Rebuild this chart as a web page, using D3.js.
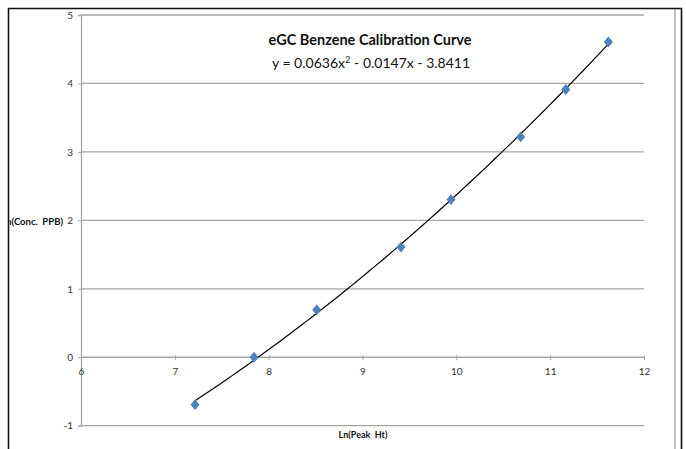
<!DOCTYPE html>
<html><head><meta charset="utf-8">
<script src="https://cdn.jsdelivr.net/npm/d3@7"></script>
<style>body{margin:0;background:#fff}svg{display:block}</style>
</head><body>
<svg id="c" width="686" height="449"></svg>
<script>
const lnPeakHt = [7.215, 7.844, 8.512, 9.41, 9.943, 10.686, 11.166, 11.62];
const lnConc   = [-0.693, 0, 0.693, 1.609, 2.303, 3.219, 3.912, 4.605];
const xTicks = [6, 7, 8, 9, 10, 11, 12];
const yTicks = [-1, 0, 1, 2, 3, 4, 5];
const trendCoef = [0.0636, -0.0147, -3.8411];
const titleText = "eGC Benzene Calibration Curve";
const xLabel = "Ln(Peak  Ht)";
const yLabel = "Ln(Conc.  PPB)";

const FONT = "Lato, 'Open Sans', sans-serif";
const svg = d3.select("#c");
const x = d3.scaleLinear().domain([6, 12]).range([81, 644]);
const y = d3.scaleLinear().domain([-1, 5]).range([425.7, 15]);
const grid = "#a5a5a5";

svg.append("defs").append("clipPath").attr("id","clip")
  .append("rect").attr("x",9.5).attr("y",9).attr("width",671).attr("height",440);
const g = svg.append("g").attr("clip-path","url(#clip)");

// gridlines
g.selectAll("line.grid").data(yTicks.filter(d=>d!==0)).join("line")
  .attr("x1",x(6)).attr("x2",x(12)).attr("y1",d=>y(d)).attr("y2",d=>y(d))
  .attr("stroke",grid).attr("stroke-width",1.3);

// y axis
const ya = g.append("g").attr("transform",`translate(${x(6)},0)`)
  .call(d3.axisLeft(y).tickValues(yTicks).tickSize(3).tickPadding(5).tickFormat(d => String(d)));
ya.select(".domain").attr("stroke",grid).attr("stroke-width",1.3);
ya.selectAll(".tick line").attr("stroke",grid);
ya.selectAll("text").attr("font-family",FONT).attr("font-size",10).attr("fill","#333");

// x axis at y=0
const xa = g.append("g").attr("transform",`translate(0,${y(0)})`)
  .call(d3.axisBottom(x).tickValues(xTicks).tickSize(3).tickPadding(8).tickFormat(d => String(d)));
xa.select(".domain").attr("stroke",grid).attr("stroke-width",1.3).attr("d",`M${x(6)},0H${x(12)}`);
xa.selectAll(".tick line").attr("stroke",grid).attr("y1",-2).attr("y2",3);
xa.selectAll("text").attr("font-family",FONT).attr("font-size",10).attr("fill","#333");

// trendline
const xs = d3.range(0, 101).map(i => d3.min(lnPeakHt) + (d3.max(lnPeakHt)-d3.min(lnPeakHt))*i/100);
const tline = d3.line().x(d=>x(d)).y(d=>y(trendCoef[0]*d*d + trendCoef[1]*d + trendCoef[2]));
g.append("path").attr("d",tline(xs)).attr("fill","none").attr("stroke","#000").attr("stroke-width",1.2);

// points
g.selectAll("path.pt").data(lnPeakHt.map((v,i)=>[v,lnConc[i]])).join("path")
  .attr("d", d3.symbol(d3.symbolDiamond, 34)())
  .attr("transform", d=>`translate(${x(d[0])},${y(d[1])}) scale(1.45,1)`)
  .attr("fill","#4f81bd");

// title and equation
g.append("text").attr("x",370).attr("y",45).attr("text-anchor","middle")
  .attr("font-family",FONT).attr("font-weight","bold").attr("font-size",14.5).attr("fill","#111")
  .text(titleText);
const eq = g.append("text").attr("x",371).attr("y",68).attr("text-anchor","middle")
  .attr("font-family",FONT).attr("font-size",14).attr("fill","#111");
eq.append("tspan").text("y = 0.0636x");
eq.append("tspan").attr("dy",-5).attr("font-size",9.5).text("2");
eq.append("tspan").attr("dy",5).text(" - 0.0147x - 3.8411");

// axis labels
g.append("text").attr("x",363).attr("y",437.5).attr("text-anchor","middle")
  .attr("font-family",FONT).attr("font-weight","bold").attr("font-size",9).attr("fill","#111")
  .attr("xml:space","preserve").text(xLabel);
g.append("text").attr("x",63).attr("y",225).attr("text-anchor","end")
  .attr("font-family",FONT).attr("font-weight","bold").attr("font-size",9.5).attr("fill","#111")
  .attr("xml:space","preserve").text(yLabel);

// borders
svg.append("line").attr("x1",675).attr("x2",675).attr("y1",9).attr("y2",449).attr("stroke","#a0a0a0").attr("stroke-width",1.3);
svg.append("path").attr("d","M8.5,449V8.5H681.5V449").attr("fill","none").attr("stroke","#111").attr("stroke-width",1.6);
</script>
</body></html>
